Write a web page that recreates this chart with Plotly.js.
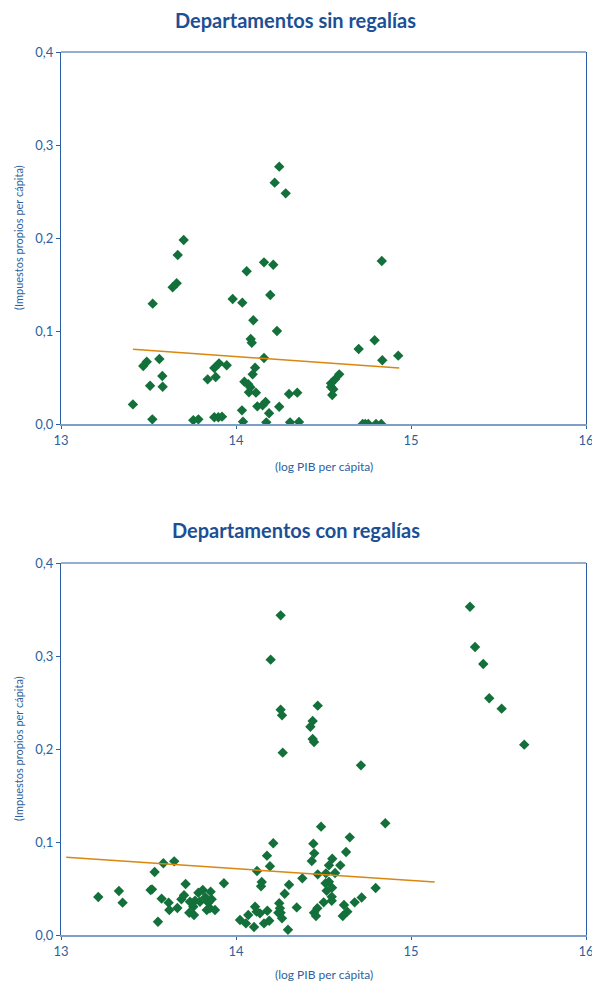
<!DOCTYPE html>
<html>
<head>
<meta charset="utf-8">
<script src="https://cdn.plot.ly/plotly-3.0.1.min.js"></script>
<style>html,body{margin:0;padding:0;background:#fff;}#chart{width:592px;height:985px;}</style>
</head>
<body>
<div id="chart"></div>
<script>
// Panel 1: Departamentos sin regalías
const sinX = [14.247,14.221,14.284,13.701,13.667,13.661,13.638,13.524,14.160,14.213,14.061,13.981,14.036,14.196,14.099,14.234,14.084,14.090,14.160,13.470,13.490,13.562,13.579,13.509,13.581,13.411,13.522,13.903,13.876,13.947,13.838,13.884,14.109,14.095,14.048,14.070,14.082,14.074,14.114,14.303,14.350,14.034,14.122,14.152,14.169,14.189,14.247,13.756,13.785,13.876,13.899,13.920,14.040,14.173,14.309,14.360,14.833,14.701,14.792,14.836,14.927,14.590,14.566,14.543,14.556,14.543,14.550,14.724,14.739,14.756,14.800,14.830];
const sinY = [0.2767,0.2595,0.2480,0.1978,0.1817,0.1513,0.1470,0.1294,0.1738,0.1713,0.1642,0.1344,0.1305,0.1387,0.1115,0.1000,0.0914,0.0874,0.0710,0.0624,0.0670,0.0699,0.0516,0.0412,0.0401,0.0211,0.0050,0.0652,0.0602,0.0631,0.0480,0.0505,0.0606,0.0534,0.0455,0.0427,0.0395,0.0341,0.0337,0.0323,0.0337,0.0147,0.0190,0.0201,0.0237,0.0115,0.0186,0.0040,0.0050,0.0072,0.0072,0.0079,0.0025,0.0018,0.0018,0.0022,0.1753,0.0806,0.0900,0.0685,0.0735,0.0534,0.0480,0.0437,0.0373,0.0398,0.0312,0.0,0.0,0.0,0.0,0.0];
const sinTrendX = [13.411, 14.933];
const sinTrendY = [0.0803, 0.0602];

// Panel 2: Departamentos con regalías
const conX = [14.255,14.198,14.255,14.263,14.267,14.467,14.438,14.425,14.438,14.446,14.714,14.853,14.486,14.650,14.629,14.442,14.447,14.433,14.213,14.177,14.194,14.550,14.531,14.596,14.467,14.514,14.566,14.147,14.143,14.303,14.379,14.278,14.512,14.531,14.549,14.518,14.547,14.547,14.501,14.347,14.247,14.251,14.255,14.242,14.263,14.179,14.190,14.160,14.137,14.297,14.465,14.446,14.457,14.617,14.636,14.610,14.678,14.718,14.798,14.120,14.109,14.118,14.070,14.023,14.057,14.103,13.585,13.647,13.535,13.512,13.520,13.213,13.331,13.352,13.575,13.554,13.615,13.619,13.665,13.712,13.688,13.703,13.785,13.810,13.855,13.931,13.737,13.766,13.756,13.733,13.760,13.794,13.825,13.842,13.861,13.833,13.851,13.880,15.337,15.366,15.413,15.447,15.518,15.647];
const conY = [0.3437,0.2961,0.2423,0.2362,0.1961,0.2466,0.2301,0.2240,0.2108,0.2075,0.1824,0.1201,0.1165,0.1050,0.0892,0.0982,0.0878,0.0796,0.0986,0.0853,0.0739,0.0820,0.0749,0.0749,0.0652,0.0663,0.0667,0.0570,0.0523,0.0541,0.0609,0.0444,0.0556,0.0573,0.0509,0.0476,0.0412,0.0369,0.0351,0.0297,0.0341,0.0287,0.0240,0.0240,0.0179,0.0261,0.0154,0.0125,0.0233,0.0057,0.0287,0.0240,0.0204,0.0323,0.0251,0.0204,0.0351,0.0404,0.0505,0.0688,0.0304,0.0251,0.0215,0.0161,0.0125,0.0086,0.0771,0.0792,0.0677,0.0484,0.0491,0.0409,0.0473,0.0348,0.0391,0.0143,0.0348,0.0269,0.0290,0.0548,0.0384,0.0427,0.0455,0.0484,0.0466,0.0556,0.0358,0.0369,0.0304,0.0240,0.0215,0.0358,0.0405,0.0348,0.0384,0.0269,0.0287,0.0269,0.3530,0.3097,0.2914,0.2545,0.2434,0.2047];
const conTrendX = [13.03, 15.135];
const conTrendY = [0.0835, 0.057];

const titles = ["Departamentos sin regalías", "Departamentos con regalías"];
const xTitle = "(log PIB per cápita)";
const yTitle = "(Impuestos propios per cápita)";
const yTicks = [0, 0.1, 0.2, 0.3, 0.4];
const xTicks = [13, 14, 15, 16];

const green = '#13703a';
const orange = '#d9870f';
const blue = '#2a5fa5';
const lightBlue = '#7d9dca';
const txt = '#2e5f9e';
const FONT = 'Lato, "Open Sans", sans-serif';

const marker = {symbol: 'diamond', size: 8, color: green, line: {width: 0}};

const data = [
  {x: sinX, y: sinY, xaxis: 'x', yaxis: 'y', type: 'scatter', mode: 'markers', marker: marker, hoverinfo: 'x+y'},
  {x: sinTrendX, y: sinTrendY, xaxis: 'x', yaxis: 'y', type: 'scatter', mode: 'lines', line: {color: orange, width: 1.5}},
  {x: conX, y: conY, xaxis: 'x2', yaxis: 'y2', type: 'scatter', mode: 'markers', marker: marker, hoverinfo: 'x+y'},
  {x: conTrendX, y: conTrendY, xaxis: 'x2', yaxis: 'y2', type: 'scatter', mode: 'lines', line: {color: orange, width: 1.5}}
];

function xa(anchor) {
  return {anchor: anchor, range: [13, 16], tickvals: xTicks, ticktext: xTicks.map(String),
    showgrid: false, zeroline: false, showline: true, linecolor: lightBlue, linewidth: 2,
    ticks: 'outside', ticklen: 3, tickcolor: blue, tickwidth: 1, ticklabeloverflow: 'allow',
    tickfont: {family: FONT, size: 13, color: txt}, fixedrange: true};
}
function ya(anchor, domain) {
  return {anchor: anchor, domain: domain, range: [0, 0.4], tickvals: yTicks,
    ticktext: yTicks.map(v => v.toFixed(1).replace('.', ',')),
    showgrid: false, zeroline: false, showline: true, linecolor: blue, linewidth: 1.2, mirror: true,
    ticks: 'outside', ticklen: 4, tickcolor: blue, tickwidth: 1, ticklabeloverflow: 'allow',
    tickfont: {family: FONT, size: 13, color: txt}, fixedrange: true};
}

const H = 883, base = 935;
const p = px => (base - px) / H;

const ann = [];
[[20, 0], [530, 1]].forEach(([py, i]) => {
  ann.push({text: '<b>' + titles[i] + '</b>', xref: 'paper', yref: 'paper', x: 0.447, y: p(py),
    xanchor: 'center', yanchor: 'middle', showarrow: false, font: {family: FONT, size: 20, color: '#1d4f95'}});
});
[[466], [975]].forEach(([py]) => {
  ann.push({text: xTitle, xref: 'paper', yref: 'paper', x: 0.5, y: p(py),
    xanchor: 'center', yanchor: 'middle', showarrow: false, font: {family: FONT, size: 12, color: txt}});
});
[[238], [749]].forEach(([py]) => {
  ann.push({text: yTitle, xref: 'paper', yref: 'paper', x: (18 - 61) / 525, y: p(py), textangle: -90,
    xanchor: 'center', yanchor: 'middle', showarrow: false, font: {family: FONT, size: 11, color: txt}});
});

const layout = {
  width: 592, height: 985,
  margin: {l: 61, r: 6, t: 52, b: 50},
  paper_bgcolor: '#fff', plot_bgcolor: '#fff',
  showlegend: false,
  xaxis: xa('y'), yaxis: ya('x', [p(424), 1]),
  xaxis2: xa('y2'), yaxis2: ya('x2', [0, p(563)]),
  annotations: ann,
  shapes: [
    {type: 'line', xref: 'paper', yref: 'paper', x0: 0, x1: 1, y0: 1, y1: 1, line: {color: blue, width: 1.2}},
    {type: 'line', xref: 'paper', yref: 'paper', x0: 0, x1: 1, y0: p(563), y1: p(563), line: {color: blue, width: 1.2}}
  ]
};

Plotly.newPlot('chart', data, layout, {displayModeBar: false, staticPlot: true});
</script>
</body>
</html>
